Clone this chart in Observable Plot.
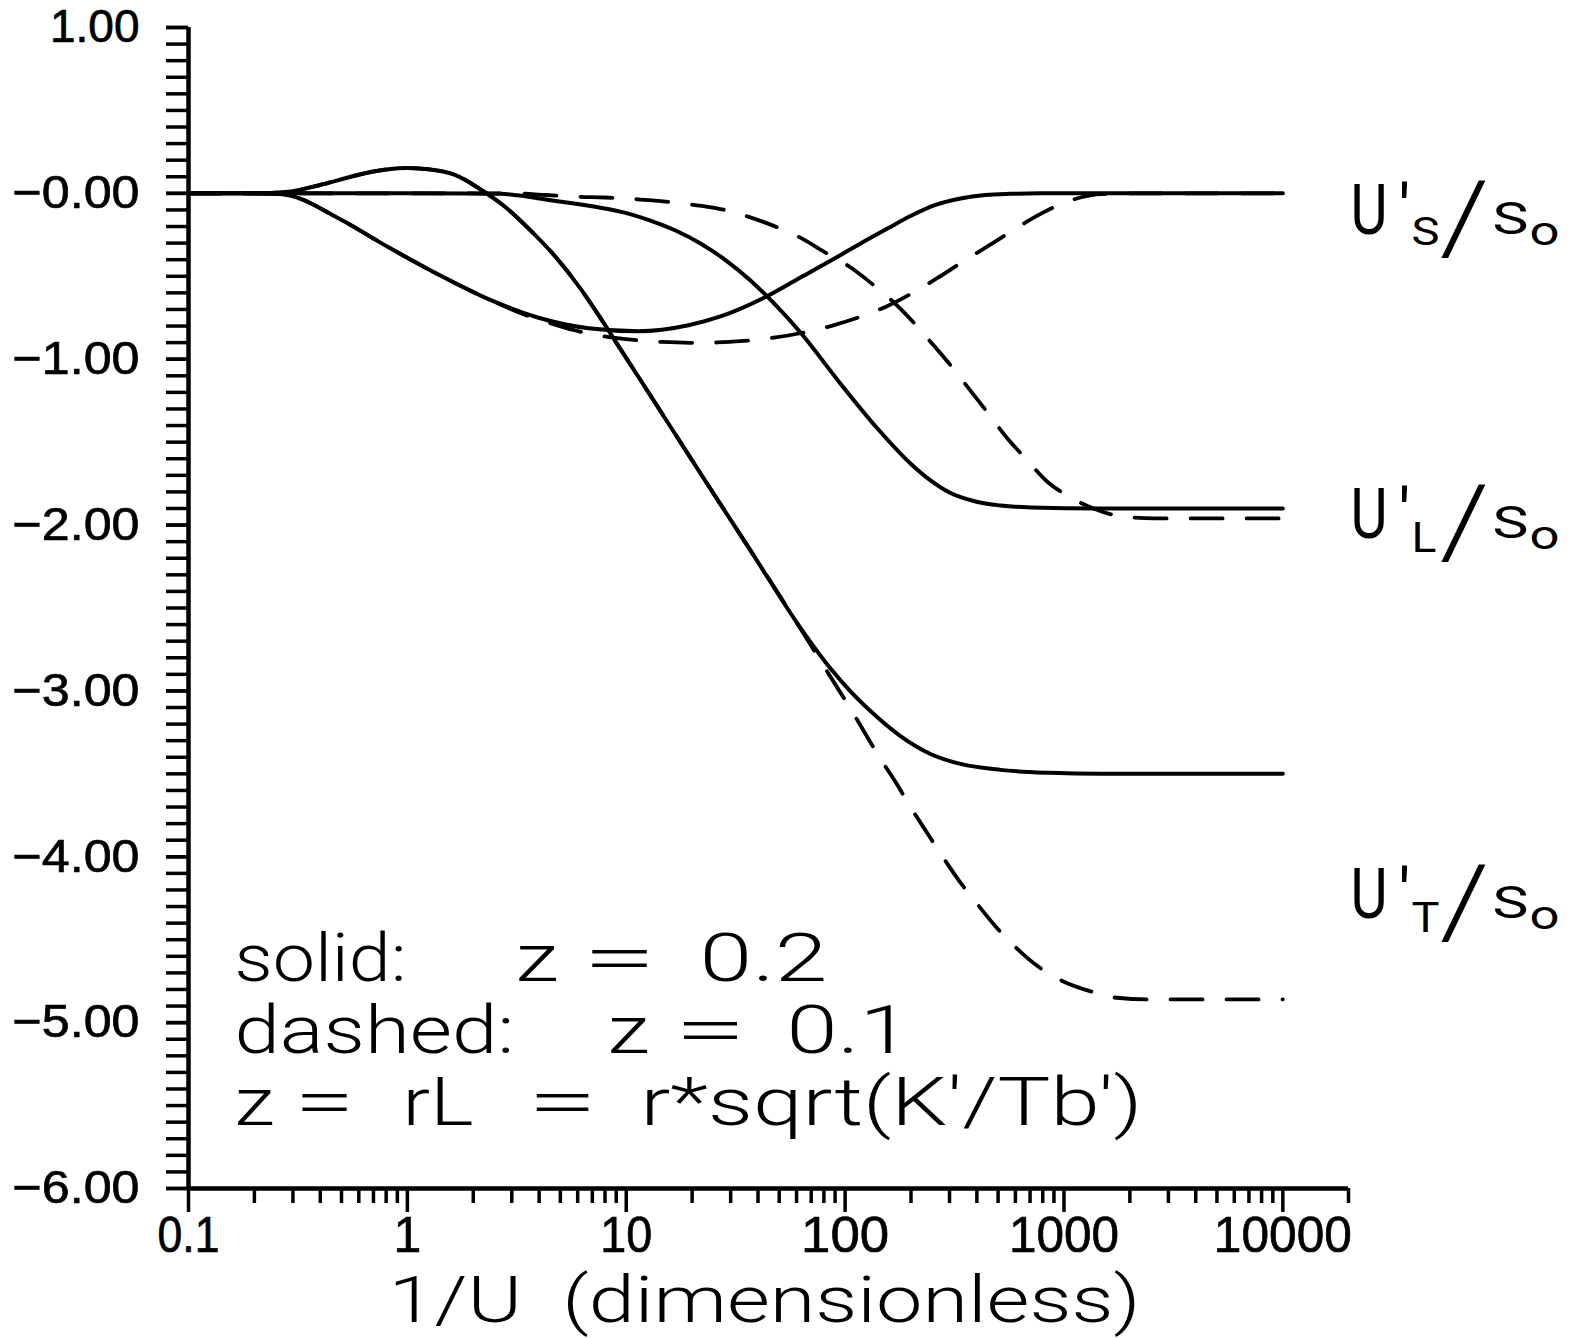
<!DOCTYPE html>
<html>
<head>
<meta charset="utf-8">
<script src="https://cdn.jsdelivr.net/npm/d3@7"></script>
<script src="https://cdn.jsdelivr.net/npm/@observablehq/plot@0.6"></script>
<style>
html, body { margin: 0; padding: 0; background: #fff; }
#chart svg { display: block; }
g[aria-label="y-axis tick label"] text, g[aria-label="x-axis tick label"] text { stroke: #000; stroke-width: 0.7px; }
</style>
</head>
<body>
<div id="chart"></div>
<script>
// ---------------- data ----------------
// U'S/So, solid (z = 0.2)
const sSolidX = [0.1,0.2,0.25,0.286,0.484,0.82,1.388,2.349,3.973,6.724,11.38,19.25,26.96,42.38,62.54,89.44,117.6,156.2,199,258.8,336.7,437.9,569.7,781.1,1000,10000];
const sSolidY = [0,0,-0.003,-0.011,-0.150,-0.325,-0.490,-0.638,-0.750,-0.813,-0.831,-0.795,-0.742,-0.631,-0.507,-0.393,-0.302,-0.212,-0.137,-0.070,-0.031,-0.010,-0.003,0,0,0];
// U'S/So, dashed (z = 0.1)
const sDashX = [0.1,0.2,0.25,0.286,0.484,0.82,1.388,2.349,3.322,4.414,5.865,7.707,10.24,14.49,19.66,26.12,34.34,48.08,63.2,87.6,115.1,156.2,201.1,264.3,340.2,447.3,563.8,741.3,984.5,1190,1469,2013,10000];
const sDashY = [0,0,-0.003,-0.011,-0.150,-0.325,-0.490,-0.638,-0.724,-0.779,-0.827,-0.860,-0.881,-0.896,-0.901,-0.899,-0.890,-0.869,-0.842,-0.797,-0.748,-0.679,-0.604,-0.510,-0.417,-0.320,-0.236,-0.140,-0.061,-0.025,-0.004,0,0];
// U'L/So, solid
const lSolidX = [0.1,1,2,2.664,4.751,7.628,9.923,12.91,16.80,21.84,28.41,36.96,48.08,62.54,94.28,140.6,201.1,245.5,299.9,394.2,512.8,703.2,1468,10000];
const lSolidY = [0,0,-0.001,-0.003,-0.046,-0.087,-0.118,-0.164,-0.224,-0.302,-0.402,-0.525,-0.673,-0.839,-1.140,-1.418,-1.635,-1.731,-1.804,-1.858,-1.882,-1.894,-1.90,-1.90];
// U'L/So, dashed
const lDashX = [0.1,1,3,4.3,6,8,11,14,19,26,36,48,63,82,107,134,174,206,259,309,379,453,553,670,842,1060,1364,1880,2600,10000];
const lDashY = [0,0,0,-0.01,-0.02,-0.025,-0.035,-0.045,-0.065,-0.09,-0.14,-0.20,-0.27,-0.36,-0.45,-0.55,-0.68,-0.78,-0.93,-1.05,-1.20,-1.33,-1.48,-1.60,-1.74,-1.83,-1.90,-1.95,-1.96,-1.96];
// U'T/So, solid
const tSolidX = [0.1,0.2,0.286,0.385,0.485,0.687,0.98,1.25,1.66,2.18,2.81,3.65,4.75,6.18,7.63,9.41,12.9,21.8,37.0,62.6,85.8,105.8,145.1,179.1,245.6,336.7,513,867,1468,10000];
const tSolidY = [0,0,0.01,0.045,0.08,0.13,0.153,0.145,0.11,0.02,-0.084,-0.223,-0.382,-0.574,-0.752,-0.939,-1.219,-1.687,-2.154,-2.621,-2.865,-3.003,-3.175,-3.272,-3.380,-3.440,-3.476,-3.494,-3.50,-3.50];
// U'T/So, dashed
const tDashX = [0.1,0.2,0.286,0.385,0.485,0.687,0.98,1.25,1.66,2.18,2.81,3.65,4.75,6.18,7.63,9.41,12.9,21.8,37.0,50.7,75.7,90.6,104,124,142,172,199,238,279,334,399,487,595,759,988,1313,1743,2440,10000];
const tDashY = [0,0,0.01,0.045,0.08,0.13,0.153,0.145,0.11,0.02,-0.084,-0.223,-0.382,-0.574,-0.752,-0.939,-1.219,-1.687,-2.154,-2.434,-2.80,-2.965,-3.09,-3.26,-3.39,-3.56,-3.70,-3.86,-4.00,-4.15,-4.28,-4.42,-4.54,-4.66,-4.75,-4.81,-4.85,-4.86,-4.86];

// ticks and tick labels
const yTicks = [1,0,-1,-2,-3,-4,-5,-6];
const yTickLabels = ["1.00","\u22120.00","\u22121.00","\u22122.00","\u22123.00","\u22124.00","\u22125.00","\u22126.00"];
const xTicks = [0.1,1,10,100,1000,10000];
const xTickLabels = ["0.1","1","10","100","1000","10000"];
const xTitle = "1/U\u00a0\u00a0(dimensionless)";
const legendLines = [["solid:","z","=","0.2"],["dashed:","z","=","0.1"],["z","=","rL","=","r*sqrt(K'/Tb')"]];
const curveNames = ["S","L","T"];

// ---------------- build ----------------
const xMax = Math.pow(10, 4.3);
const yMinor = d3.range(-60, 11).map(k => k / 10);
const xMinor = [0.1,1,10,100,1000].flatMap(d => d3.range(2,10).map(k => d * k));
const yLab = new Map(yTicks.map((d,i) => [d, yTickLabels[i]]));
const xLab = new Map(xTicks.map((d,i) => [d, xTickLabels[i]]));

const series = [
  {id:"S-solid", dash:false, xs:sSolidX, ys:sSolidY},
  {id:"S-dash",  dash:true,  xs:sDashX,  ys:sDashY},
  {id:"L-solid", dash:false, xs:lSolidX, ys:lSolidY},
  {id:"L-dash",  dash:true,  xs:lDashX,  ys:lDashY},
  {id:"T-solid", dash:false, xs:tSolidX, ys:tSolidY},
  {id:"T-dash",  dash:true,  xs:tDashX,  ys:tDashY}
];
const rows = series.flatMap(s => s.xs.map((x,i) => ({id:s.id, dash:s.dash, x, y:s.ys[i]})));

// layout of free text (page pixel positions: left x, baseline y, size, advance width)
const FL = 188, FT = 27;
const annFont = "Roboto, 'Liberation Sans', Arial, sans-serif";
const segs = [];
const annLayout = [
  [[234,172],[515,43],[582,74],[699,128]],
  [[234,280],[607,42],[674,72],[786,124]],
  [[234,40],[294,60],[402,71],[527,70],[640,502]]
];
const annBase = [980, 1052, 1124];
legendLines.forEach((line, li) => line.forEach((t, k) => {
  segs.push({t, x: annLayout[li][k][0], y: annBase[li], size: 66, w: annLayout[li][k][1], weight: 300});
}));
segs.push({t: xTitle, x: 388, y: 1321, size: 64, w: 752, weight: 300});
const labBase = [233, 537, 917];
curveNames.forEach((c, i) => {
  const b = labBase[i];
  segs.push({t:"U", x:1350, y:b, size:71, w:37, weight:400});
  segs.push({t:"'", x:1398, y:b, size:71, w:12, weight:400});
  segs.push({t:c, x:1411, y:b + 11 + (c === "S" ? 0 : 3), size: c === "S" ? 39 : 43, w: c === "L" ? 25 : 28, weight:400});
  segs.push({t:"/", x:1439, y:b + 18, size:100, w:50, weight:300});
  segs.push({t:"S", x:1492, y:b, size:44, w:36, weight:400});
  segs.push({t:"o", x:1529, y:b + 11, size:40, w:30, weight:400});
});

const textMarks = segs.map(s => Plot.text([s.t], {
  text: d => d, frameAnchor: "top-left", dx: s.x - FL, dy: s.y - FT,
  textAnchor: "start", lineAnchor: "bottom", fontSize: s.size,
  fontFamily: annFont, fontWeight: s.weight, fill: "#000"
}));

const svg = Plot.plot({
  width: 1571, height: 1338,
  marginLeft: FL, marginRight: 1571 - 1348, marginTop: FT, marginBottom: 1338 - 1188,
  style: {background: "#fff", color: "#000", fontFamily: "'Liberation Sans', Arial, Helvetica, sans-serif", overflow: "visible"},
  x: {type: "log", domain: [0.1, xMax], label: null},
  y: {domain: [-6, 1], label: null},
  marks: [
    Plot.axisY({ticks: yMinor, tickSize: 22, strokeWidth: 3.5, tickFormat: () => "", label: null}),
    Plot.axisY({ticks: yTicks, tickSize: 22, strokeWidth: 3.5, tickPadding: 27, fontSize: 46, tickFormat: d => yLab.get(d), label: null}),
    Plot.axisX({ticks: xMinor, tickSize: 15, strokeWidth: 3.5, tickFormat: () => "", label: null}),
    Plot.axisX({ticks: [xMax], tickSize: 15, strokeWidth: 3.5, tickFormat: () => "", label: null}),
    Plot.axisX({ticks: xTicks, tickSize: 24, strokeWidth: 3.5, tickPadding: 4, fontSize: 50, tickFormat: d => xLab.get(d), label: null}),
    Plot.ruleX([0.1], {y1: -6, y2: 1, strokeWidth: 4.5, stroke: "#000"}),
    Plot.ruleY([-6], {x1: 0.1, x2: xMax, strokeWidth: 4.5, stroke: "#000"}),
    Plot.line(rows.filter(d => !d.dash), {x: "x", y: "y", z: "id", stroke: "#000", strokeWidth: 4, curve: "monotone-x", strokeLinecap: "round", strokeLinejoin: "round"}),
    Plot.line(rows.filter(d => d.dash), {x: "x", y: "y", z: "id", stroke: "#000", strokeWidth: 3.8, strokeDasharray: "32,24", curve: "monotone-x"}),
    ...textMarks
  ]
});
document.getElementById("chart").appendChild(svg);

// fit free text to the reference widths
svg.querySelectorAll('g[aria-label="text"]').forEach((g, i) => {
  const t = g.querySelector("text");
  if (t && segs[i]) { t.setAttribute("textLength", segs[i].w); t.setAttribute("lengthAdjust", "spacingAndGlyphs"); }
});
const xW = {"0.1": 62, "10": 52, "100": 88, "1000": 110, "10000": 138};
svg.querySelectorAll('g[aria-label="x-axis tick label"] text').forEach(t => {
  const w = xW[t.textContent];
  if (w) { t.setAttribute("textLength", w); t.setAttribute("lengthAdjust", "spacingAndGlyphs"); }
});
svg.querySelectorAll('g[aria-label="y-axis tick label"] text').forEach(t => {
  if (t.textContent.startsWith("\u2212")) { t.setAttribute("textLength", 127); t.setAttribute("lengthAdjust", "spacingAndGlyphs"); }
});
</script>
</body>
</html>
